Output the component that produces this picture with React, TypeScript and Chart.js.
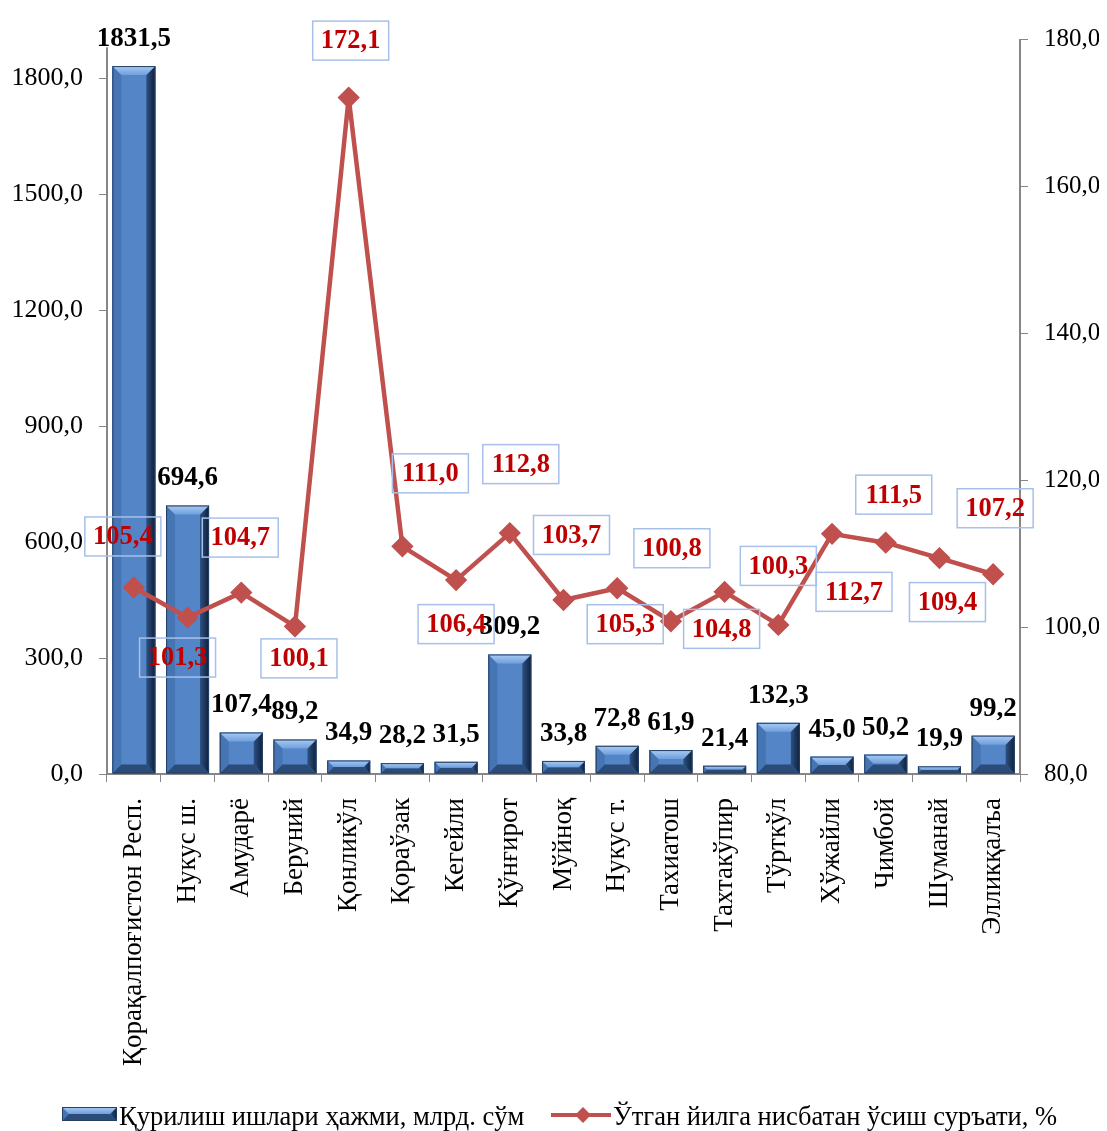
import React, { useEffect, useRef } from "react";
import { Chart, registerables } from "chart.js";

Chart.register(...registerables);

const categories = [
  "Қорақалпоғистон Респ.",
  "Нукус ш.",
  "Амударё",
  "Беруний",
  "Қонликўл",
  "Қораўзак",
  "Кегейли",
  "Қўнғирот",
  "Мўйноқ",
  "Нукус т.",
  "Тахиатош",
  "Тахтакўпир",
  "Тўрткўл",
  "Хўжайли",
  "Чимбой",
  "Шуманай",
  "Элликқалъа",
];

const volumeValues = [
  1831.5, 694.6, 107.4, 89.2, 34.9, 28.2, 31.5, 309.2, 33.8, 72.8, 61.9, 21.4,
  132.3, 45.0, 50.2, 19.9, 99.2,
];

const growthValues = [
  105.4, 101.3, 104.7, 100.1, 172.1, 111.0, 106.4, 112.8, 103.7, 105.3, 100.8,
  104.8, 100.3, 112.7, 111.5, 109.4, 107.2,
];

const leftTicks = [0, 300, 600, 900, 1200, 1500, 1800];
const rightTicks = [80, 100, 120, 140, 160, 180];

const volumeLabel = "Қурилиш ишлари ҳажми, млрд. сўм";
const growthLabel = "Ўтган йилга нисбатан ўсиш суръати, %";

// label box placement relative to the line point (box center offset, px)
const growthLabelOffsets: [number, number][] = [
  [-11, -51], [-10, 40], [-1, -55], [4, 32], [2, -57], [28, -73], [0, 44],
  [11, -69], [8, -65], [8, 36], [1, -73], [-3, 37], [0, -59], [22, 58],
  [8, -48], [8, 44], [2, -66],
];

const SERIF = '"Liberation Serif", "Times New Roman", serif';
const fmt = (v: number) => v.toFixed(1).replace(".", ",");

function drawBevelBar(ctx: CanvasRenderingContext2D, x0: number, x1: number, y0: number, y1: number) {
  const w = x1 - x0;
  const h = y1 - y0;
  if (h <= 0) return;
  const b = Math.min(9, w / 2, h / 2);
  ctx.save();
  ctx.fillStyle = "#5485c6";
  ctx.fillRect(x0, y0, w, h);
  ctx.beginPath();
  ctx.moveTo(x0, y0);
  ctx.lineTo(x0 + b, y0 + b);
  ctx.lineTo(x0 + b, y1 - b);
  ctx.lineTo(x0, y1);
  ctx.closePath();
  ctx.fillStyle = "#4675b4";
  ctx.fill();
  const gr = ctx.createLinearGradient(x1 - b, 0, x1, 0);
  gr.addColorStop(0, "#2d5184");
  gr.addColorStop(1, "#0f1f38");
  ctx.beginPath();
  ctx.moveTo(x1, y0);
  ctx.lineTo(x1, y1);
  ctx.lineTo(x1 - b, y1 - b);
  ctx.lineTo(x1 - b, y0 + b);
  ctx.closePath();
  ctx.fillStyle = gr;
  ctx.fill();
  ctx.beginPath();
  ctx.moveTo(x0, y1);
  ctx.lineTo(x1, y1);
  ctx.lineTo(x1 - b, y1 - b);
  ctx.lineTo(x0 + b, y1 - b);
  ctx.closePath();
  ctx.fillStyle = "#2b4b78";
  ctx.fill();
  const gt = ctx.createLinearGradient(0, y0, 0, y0 + b);
  gt.addColorStop(0, "#a9cbf3");
  gt.addColorStop(1, "#6f9fdc");
  ctx.beginPath();
  ctx.moveTo(x0, y0);
  ctx.lineTo(x1, y0);
  ctx.lineTo(x1 - b, y0 + b);
  ctx.lineTo(x0 + b, y0 + b);
  ctx.closePath();
  ctx.fillStyle = gt;
  ctx.fill();
  ctx.strokeStyle = "#243f66";
  ctx.lineWidth = 1;
  ctx.strokeRect(x0 + 0.5, y0 + 0.5, w - 1, h - 1);
  ctx.restore();
}

const decorPlugin = {
  id: "decor",
  beforeDatasetsDraw(chart: any) {
    const ctx = chart.ctx;
    const ys = chart.scales.y;
    const x = chart.chartArea.left;
    ctx.save();
    ctx.strokeStyle = "#868686";
    ctx.lineWidth = 2;
    ctx.beginPath();
    ctx.moveTo(x, ys.getPixelForValue(1880));
    ctx.lineTo(x, chart.chartArea.bottom);
    ctx.stroke();
    ctx.restore();
  },
  afterDatasetDraw(chart: any, args: any) {
    if (args.index !== 1) return;
    const ctx = chart.ctx;
    const meta = chart.getDatasetMeta(1);
    meta.data.forEach((el: any) => {
      const half = el.width / 2;
      drawBevelBar(ctx, el.x - half, el.x + half, Math.min(el.y, el.base), Math.max(el.y, el.base));
    });
  },
  afterDatasetsDraw(chart: any) {
    const ctx = chart.ctx;
    ctx.save();
    const barMeta = chart.getDatasetMeta(1);
    ctx.font = `bold 27px ${SERIF}`;
    ctx.fillStyle = "#000000";
    ctx.textAlign = "center";
    ctx.textBaseline = "middle";
    barMeta.data.forEach((el: any, i: number) => {
      ctx.fillText(fmt(volumeValues[i]), el.x, el.y - 27);
    });
    const lineMeta = chart.getDatasetMeta(0);
    ctx.font = `bold 26.5px ${SERIF}`;
    lineMeta.data.forEach((el: any, i: number) => {
      const [dx, dy] = growthLabelOffsets[i];
      const cx = el.x + dx;
      const cy = el.y + dy;
      const bw = 76;
      const bh = 39;
      ctx.strokeStyle = "#a7c0ea";
      ctx.lineWidth = 1.5;
      ctx.strokeRect(cx - bw / 2, cy - bh / 2, bw, bh);
      ctx.fillStyle = "#c00000";
      ctx.fillText(fmt(growthValues[i]), cx, cy + 1);
    });
    ctx.restore();
  },
  afterDraw(chart: any) {
    const ctx = chart.ctx;
    ctx.save();
    drawBevelBar(ctx, 54, 109, 1099, 1113);
    ctx.font = `26.5px ${SERIF}`;
    ctx.fillStyle = "#000000";
    ctx.textAlign = "left";
    ctx.textBaseline = "alphabetic";
    ctx.fillText(volumeLabel, 111, 1117);
    ctx.strokeStyle = "#c0504d";
    ctx.lineWidth = 4;
    ctx.beginPath();
    ctx.moveTo(543, 1107);
    ctx.lineTo(603, 1107);
    ctx.stroke();
    ctx.fillStyle = "#c0504d";
    ctx.beginPath();
    ctx.moveTo(575, 1099);
    ctx.lineTo(583, 1107);
    ctx.lineTo(575, 1115);
    ctx.lineTo(567, 1107);
    ctx.closePath();
    ctx.fill();
    ctx.fillStyle = "#000000";
    ctx.fillText(growthLabel, 605, 1117);
    ctx.restore();
  },
};

export default function App() {
  const ref = useRef<HTMLCanvasElement | null>(null);
  useEffect(() => {
    if (!ref.current) return;
    const chart = new Chart(ref.current, {
      type: "bar",
      data: {
        labels: categories,
        datasets: [
          {
            type: "line",
            label: growthLabel,
            data: growthValues,
            yAxisID: "y2",
            borderColor: "#c0504d",
            backgroundColor: "#c0504d",
            borderWidth: 4.5,
            borderJoinStyle: "round",
            pointStyle: "rectRot",
            pointRadius: 8,
            pointHoverRadius: 8,
            pointBackgroundColor: "#c0504d",
            pointBorderColor: "#c0504d",
            tension: 0,
            order: 0,
          } as any,
          {
            type: "bar",
            label: volumeLabel,
            data: volumeValues,
            yAxisID: "y",
            backgroundColor: "#5485c6",
            barPercentage: 0.8,
            categoryPercentage: 1,
            order: 1,
          },
        ],
      },
      options: {
        animation: false,
        responsive: true,
        maintainAspectRatio: false,
        layout: { padding: { left: 0, right: 0, top: 27, bottom: 58 } },
        plugins: { legend: { display: false }, tooltip: { enabled: false }, title: { display: false } },
        scales: {
          x: {
            offset: true,
            grid: {
              display: true,
              drawOnChartArea: false,
              drawTicks: true,
              tickLength: 8,
              color: "#868686",
              offset: true,
            },
            border: { display: true, color: "#868686", width: 2 },
            ticks: {
              autoSkip: false,
              minRotation: 90,
              maxRotation: 90,
              padding: 16,
              color: "#000000",
              font: { family: SERIF, size: 27 },
            },
            afterFit: (s: any) => {
              s.height = 299;
            },
          },
          y: {
            position: "left",
            min: 0,
            max: 1900,
            afterBuildTicks: (s: any) => {
              s.ticks = leftTicks.map((v) => ({ value: v }));
            },
            grid: { drawOnChartArea: false, drawTicks: true, tickLength: 8, color: "#868686" },
            border: { display: false },
            ticks: {
              padding: 16,
              color: "#000000",
              font: { family: SERIF, size: 26 },
              callback: (v: any) => fmt(Number(v)),
            },
            afterFit: (s: any) => {
              s.width = 99;
            },
          },
          y2: {
            position: "right",
            min: 80,
            max: 180,
            afterBuildTicks: (s: any) => {
              s.ticks = rightTicks.map((v) => ({ value: v }));
            },
            grid: { drawOnChartArea: false, drawTicks: true, tickLength: 8, color: "#868686" },
            border: { display: true, color: "#868686", width: 2 },
            ticks: {
              padding: 16,
              color: "#000000",
              font: { family: SERIF, size: 25 },
              callback: (v: any) => fmt(Number(v)),
            },
            afterFit: (s: any) => {
              s.width = 79;
            },
          },
        },
      },
      plugins: [decorPlugin],
    });
    return () => chart.destroy();
  }, []);
  return (
    <div style={{ width: "1091px", height: "1123px", position: "relative" }}>
      <canvas ref={ref} />
    </div>
  );
}
